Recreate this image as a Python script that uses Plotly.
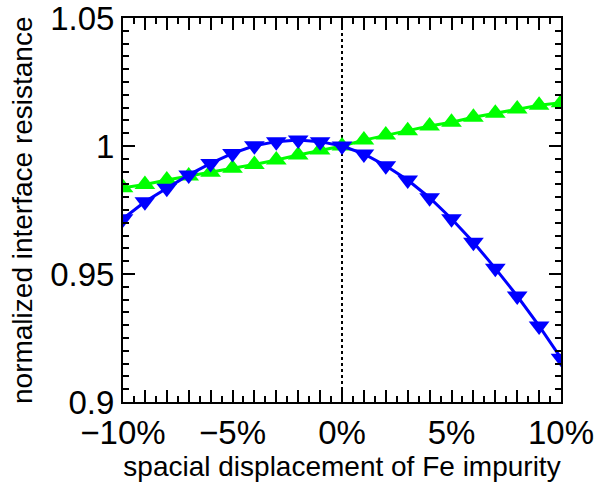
import plotly.graph_objects as go

displacement = list(range(-10, 11))  # percent
green_values = [0.9837, 0.9850, 0.9867, 0.9883, 0.9897, 0.9913, 0.9928, 0.9945, 0.9965, 0.9984, 1.0000,
                1.0023, 1.0043, 1.0060, 1.0078, 1.0093, 1.0112, 1.0128, 1.0145, 1.0159, 1.0169]
blue_values = [0.9716, 0.9782, 0.9835, 0.9887, 0.9932, 0.9971, 1.0001, 1.0017, 1.0023, 1.0017, 1.0000,
               0.9969, 0.9923, 0.9867, 0.9798, 0.9716, 0.9624, 0.9522, 0.9414, 0.9297, 0.9171]

x_tickvals = list(range(-10, 11))
x_ticklabels = {-10: "\u221210%", -5: "\u22125%", 0: "0%", 5: "5%", 10: "10%"}
y_tickvals = [0.9, 0.95, 1.0, 1.05]
y_ticktext = ["0.9", "0.95", "1", "1.05"]
x_title = "spacial displacement of Fe impurity"
y_title = "normalized interface resistance"

FONT = "Liberation Sans, Arial, sans-serif"

fig = go.Figure()
fig.add_trace(go.Scatter(
    x=displacement, y=green_values, mode="lines+markers",
    line=dict(color="#00ff00", width=3),
    marker=dict(symbol="triangle-up", size=18, color="#00ff00"),
    showlegend=False))
fig.add_trace(go.Scatter(
    x=displacement, y=blue_values, mode="lines+markers",
    line=dict(color="#0000ff", width=3),
    marker=dict(symbol="triangle-down", size=18, color="#0000ff"),
    showlegend=False))

fig.add_vline(x=0, line=dict(color="black", width=2, dash="dot"), layer="below")

fig.update_layout(
    width=597, height=489,
    margin=dict(l=123, r=36, t=18, b=87),
    paper_bgcolor="white", plot_bgcolor="white",
    font=dict(family=FONT, color="black"),
)
fig.add_annotation(
    text=y_title, textangle=-90, xref="paper", yref="paper",
    x=0, y=0.5, xanchor="center", yanchor="middle", xshift=-101, showarrow=False,
    font=dict(size=28, family=FONT, color="black"),
)
fig.update_xaxes(
    range=[-10, 10], showgrid=False, zeroline=False, automargin=False,
    showline=True, linecolor="black", linewidth=2, mirror="allticks",
    ticks="inside", ticklen=12, tickwidth=1.5, tickcolor="black",
    tickvals=x_tickvals, ticktext=[x_ticklabels.get(v, "") for v in x_tickvals],
    tickfont=dict(size=33, family=FONT), ticklabeloverflow="allow",
    minor=dict(dtick=0.5, ticks="inside", ticklen=6, tickwidth=1.5, tickcolor="black"),
    title=dict(text=x_title, font=dict(size=28, family=FONT), standoff=4),
)
fig.update_yaxes(
    range=[0.9, 1.05], showgrid=False, zeroline=False, automargin=False,
    showline=True, linecolor="black", linewidth=2, mirror="allticks",
    ticks="inside", ticklen=12, tickwidth=1.5, tickcolor="black",
    tickvals=y_tickvals, ticktext=y_ticktext,
    tickfont=dict(size=33, family=FONT), ticklabeloverflow="allow",
    minor=dict(dtick=0.005, ticks="inside", ticklen=6, tickwidth=1.5, tickcolor="black"),
)

fig.write_html("out.html")
